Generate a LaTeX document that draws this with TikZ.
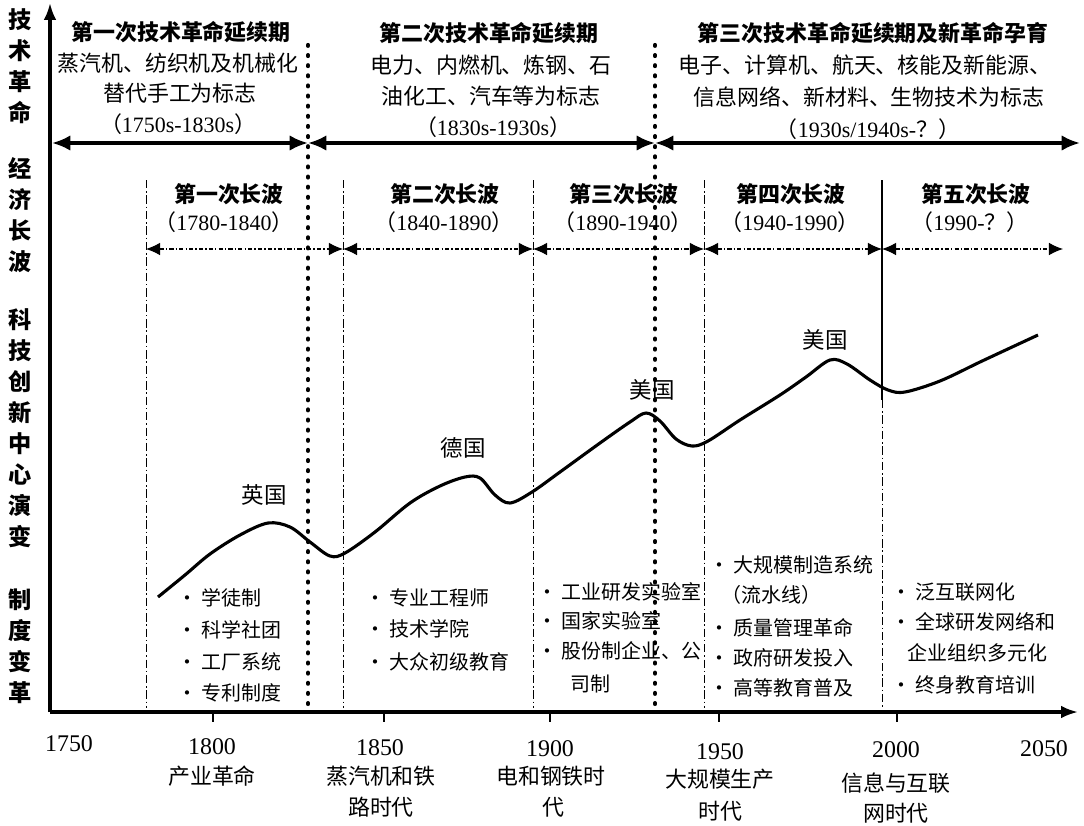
\documentclass[tikz,border=0pt]{standalone}
\usepackage{fontspec}
\setmainfont{Noto Sans CJK SC}
\newfontfamily\numfont{Liberation Serif}
\usetikzlibrary{arrows.meta}

\begin{document}
\begin{tikzpicture}[x=0.025cm, y=-0.025cm,
    axis/.style={line width=2.2pt},
    eraarrow/.style={line width=2.3pt, {Latex[length=13pt,width=11pt]}-{Latex[length=13pt,width=11pt]}},
    wavearrow/.style={line width=0.8pt, dash pattern=on 3pt off 1.5pt on 1pt off 1.5pt, {Latex[length=10pt,width=9pt]}-{Latex[length=10pt,width=9pt]}},
    heavydot/.style={line width=3pt, line cap=round, dash pattern=on 0.6pt off 6.6pt},
    thindash/.style={line width=0.7pt, dash pattern=on 6pt off 2pt on 1pt off 2pt},
    curve/.style={line width=2.2pt, line join=round},
    head/.style={font=\fontsize{15.6}{18}\selectfont\bfseries, inner sep=0pt},
    txt/.style={font=\fontsize{15.6}{18}\selectfont, inner sep=0pt},
    item/.style={font=\fontsize{14.2}{17}\selectfont, anchor=west, inner sep=0pt},
    side/.style={font=\fontsize{16.5}{22}\selectfont\bfseries, align=center, inner sep=0pt},
    year/.style={font=\fontsize{17}{20}\selectfont\numfont, inner sep=0pt},
    country/.style={font=\fontsize{16}{19}\selectfont, inner sep=0pt}]
    \useasboundingbox (0,0) rectangle (1084,825);

    % axes
    \coordinate (o) at (50,712);
    \coordinate (ytop) at (50,3);
    \coordinate (xend) at (1078,712);
    \draw[axis, -{Latex[length=12pt,width=9pt]}] (o) -- (ytop);
    \draw[axis, -{Latex[length=12pt,width=9pt]}] (o) -- (xend);
    \foreach \x in {213,384,550,719,897}
        \draw[line width=1.5pt] (\x,712) -- (\x,722);

    % left labels
    \node[side] (lab1) at (20,66) {技\\术\\革\\命};
    \node[side] (lab2) at (20,215) {经\\济\\长\\波};
    \node[side] (lab3) at (20,428) {科\\技\\创\\新\\中\\心\\演\\变};
    \node[side] (lab4) at (20,646) {制\\度\\变\\革};

    % technology revolutions
    \coordinate (t0) at (52,143);
    \coordinate (t1) at (308,143);
    \coordinate (t2) at (655,143);
    \coordinate (t3) at (1080,143);
    \draw[eraarrow] (t0) -- (t1);
    \draw[eraarrow] (t1) -- (t2);
    \draw[eraarrow] (t2) -- (t3);
    \draw[heavydot] (308,45) -- (308,708);
    \draw[heavydot] (655,45) -- (655,708);

    \node[head] (r1) at (181,32) {第一次技术革命延续期};
    \node[txt] at (178,63) {蒸汽机、纺织机及机械化};
    \node[txt] at (180,93) {替代手工为标志};
    \node[txt] at (178,124) {（{\numfont 1750s-1830s}）};

    \node[head] (r2) at (489,33) {第二次技术革命延续期};
    \node[txt] at (491,65) {电力、内燃机、炼钢、石};
    \node[txt] at (491,96) {油化工、汽车等为标志};
    \node[txt] at (493,127) {（{\numfont 1830s-1930s}）};

    \node[head] (r3) at (873,33) {第三次技术革命延续期及新革命孕育};
    \node[txt] at (865,65) {电子、计算机、航天、核能及新能源、};
    \node[txt] at (869,97) {信息网络、新材料、生物技术为标志};
    \node[txt] at (868,129) {（{\numfont 1930s/1940s-}？）};

    % long waves
    \coordinate (w0) at (146,249);
    \coordinate (w1) at (343,249);
    \coordinate (w2) at (533,249);
    \coordinate (w3) at (704,249);
    \coordinate (w4) at (882,249);
    \coordinate (w5) at (1063,249);
    \draw[wavearrow] (w0) -- (w1);
    \draw[wavearrow] (w1) -- (w2);
    \draw[wavearrow] (w2) -- (w3);
    \draw[wavearrow] (w3) -- (w4);
    \draw[wavearrow] (w4) -- (w5);
    \foreach \x in {146,343,533,704}
        \draw[thindash] (\x,180) -- (\x,708);
    \draw[line width=0.8pt] (882,180) -- (882,400);
    \draw[thindash] (882,400) -- (882,708);

    \node[head] (l1) at (229,194) {第一次长波};
    \node[txt] at (224,222) {（{\numfont 1780-1840}）};
    \node[head] (l2) at (445,194) {第二次长波};
    \node[txt] at (444,222) {（{\numfont 1840-1890}）};
    \node[head] (l3) at (624,194) {第三次长波};
    \node[txt] at (623,222) {（{\numfont 1890-1940}）};
    \node[head] (l4) at (791,194) {第四次长波};
    \node[txt] at (790,222) {（{\numfont 1940-1990}）};
    \node[head] (l5) at (976,194) {第五次长波};
    \node[txt] at (970,222) {（{\numfont 1990-}？）};

    % centre of innovation
    \draw[curve] plot[smooth, tension=0.55] coordinates {(158,597) (185,575) (210,554) (240,535) (268,523) (290,527) (310,542) (330,556) (345,553) (375,532) (410,503) (440,486) (465,477) (480,478) (495,495) (510,503) (532,492) (560,472) (600,443) (630,422) (646,413) (660,421) (676,439) (692,446) (708,441) (740,420) (780,395) (806,377) (830,360) (847,364) (870,380) (888,390) (905,392) (940,381) (980,362) (1010,348) (1038,335)};
    \node[country] (uk) at (264,495) {英国};
    \node[country] (de) at (463,448) {德国};
    \node[country] (us1) at (652,390) {美国};
    \node[country] (us2) at (825,340) {美国};

    % institutions
    \node[item] at (177,598) {• 学徒制};
    \node[item] at (177,630) {• 科学社团};
    \node[item] at (177,662) {• 工厂系统};
    \node[item] at (177,693) {• 专利制度};

    \node[item] at (365,598) {• 专业工程师};
    \node[item] at (365,629) {• 技术学院};
    \node[item] at (365,662) {• 大众初级教育};

    \node[item] at (537,592) {• 工业研发实验室};
    \node[item] at (537,621) {• 国家实验室};
    \node[item] at (537,651) {• 股份制企业、公};
    \node[item] at (570,684) {司制};

    \node[item] at (709,565) {• 大规模制造系统};
    \node[item] at (721,595) {（流水线）};
    \node[item] at (709,628) {• 质量管理革命};
    \node[item] at (709,658) {• 政府研发投入};
    \node[item] at (709,688) {• 高等教育普及};

    \node[item] at (891,592) {• 泛互联网化};
    \node[item] at (891,622) {• 全球研发网络和};
    \node[item] at (907,653) {企业组织多元化};
    \node[item] at (891,685) {• 终身教育培训};

    % time axis
    \node[year] (y1750) at (69,744) {1750};
    \node[year] (y1800) at (212,747) {1800};
    \node[year] (y1850) at (380,748) {1850};
    \node[year] (y1900) at (550,749) {1900};
    \node[year] (y1950) at (720,752) {1950};
    \node[year] (y2000) at (896,750) {2000};
    \node[year] (y2050) at (1044,749) {2050};

    \node[txt] at (212,776) {产业革命};
    \node[txt] at (381,776) {蒸汽机和铁};
    \node[txt] at (381,807) {路时代};
    \node[txt] at (551,776) {电和钢铁时};
    \node[txt] at (553,807) {代};
    \node[txt] at (720,779) {大规模生产};
    \node[txt] at (720,811) {时代};
    \node[txt] at (896,783) {信息与互联};
    \node[txt] at (896,813) {网时代};
\end{tikzpicture}
\end{document}
